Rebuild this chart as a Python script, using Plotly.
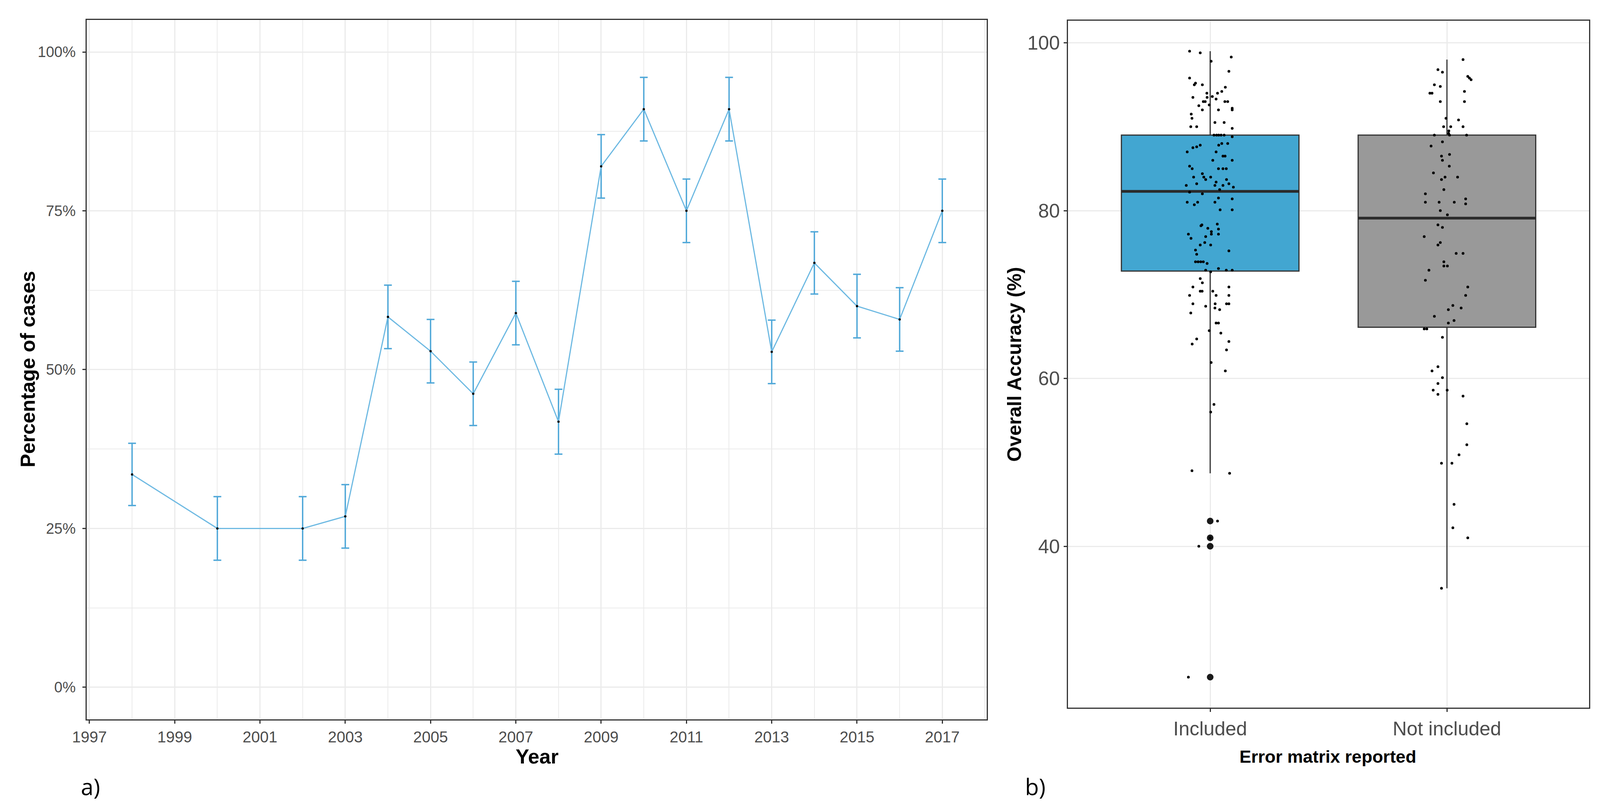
import plotly.graph_objects as go

# ---------------- Panel a) data ----------------
years = [1998, 2000, 2002, 2003, 2004, 2005, 2006, 2007, 2008, 2009,
         2010, 2011, 2012, 2013, 2014, 2015, 2016, 2017]
pct_cases = [33.5, 25.0, 25.0, 26.9, 58.3, 52.9, 46.2, 58.9, 41.8, 82.0,
             91.0, 75.0, 91.0, 52.8, 66.8, 60.0, 57.9, 75.0]
pct_err = [4.9, 5.0, 5.0, 5.0, 5.0, 5.0, 5.0, 5.0, 5.1, 5.0,
           5.0, 5.0, 5.0, 5.0, 4.9, 5.0, 5.0, 5.0]
y_ticks_a = [0, 25, 50, 75, 100]
y_ticklabels_a = ["0%", "25%", "50%", "75%", "100%"]
x_ticks_a = [1997, 1999, 2001, 2003, 2005, 2007, 2009, 2011, 2013, 2015, 2017]

# ---------------- Panel b) data ----------------
categories = ["Included", "Not included"]
box_q1 = [72.8, 66.1]
box_median = [82.3, 79.1]
box_q3 = [89.0, 89.0]
box_lower = [48.7, 35.0]
box_upper = [99.0, 98.0]
outliers_included = [43.0, 41.0, 40.0, 24.4]

included_vals = [
    99.0, 98.8, 97.8, 98.3, 96.6, 95.8, 95.2, 95.0, 95.0, 94.7,
    94.2, 94.0, 94.0, 93.6, 93.5, 93.5, 93.3, 93.0, 93.0, 93.0,
    93.0, 92.5, 92.6, 92.0, 92.0, 92.2, 92.0, 91.5, 91.0, 90.5,
    90.5, 90.0, 90.0, 89.8, 89.0, 89.0, 89.0, 89.0, 89.0, 88.8,
    87.8, 87.6, 87.5, 87.0, 88.0, 87.8, 88.0, 87.0, 86.5, 86.5,
    86.0, 86.0, 85.3, 85.0, 85.0, 85.0, 85.0, 84.4, 84.0, 84.0,
    83.7, 84.0, 83.7, 83.4, 83.0, 83.0, 83.2, 83.0, 83.2, 82.8,
    82.5, 82.2, 82.0, 81.5, 81.4, 81.0, 81.0, 80.7, 81.0, 80.1,
    80.1, 78.3, 78.2, 78.4, 77.9, 77.8, 77.5, 77.2, 77.2, 77.2,
    76.7, 76.9, 76.2, 75.9, 75.9, 75.3, 75.2, 74.8, 73.9, 73.9,
    73.9, 73.9, 73.7, 72.9, 73.1, 72.9, 72.9, 72.7, 71.9, 71.4,
    70.9, 70.9, 70.4, 70.4, 70.4, 69.9, 69.9, 69.9, 68.9, 68.9,
    68.9, 68.9, 68.6, 68.4, 68.2, 67.8, 66.6, 66.6, 65.7, 65.4,
    64.7, 64.1, 64.4, 63.4, 61.9, 60.9, 56.9, 56.0, 49.0, 48.7,
    43.0, 41.0, 40.0, 24.4,
]
included_jitter = [
    -0.087, -0.042, 0.004, 0.089, 0.079, -0.087, -0.062, -0.067, -0.033, 0.064,
    0.049, 0.031, -0.014, 0.009, -0.073, -0.013, 0.025, -0.029, -0.021, 0.062,
    0.074, -0.048, -0.004, -0.033, 0.035, 0.093, 0.093, -0.080, -0.077, 0.020,
    0.059, -0.082, -0.057, 0.093, 0.016, 0.027, 0.036, 0.046, 0.059, 0.093,
    -0.042, -0.057, -0.073, -0.097, 0.049, 0.036, 0.074, 0.025, 0.054, 0.063,
    0.011, 0.093, -0.087, -0.076, 0.035, 0.054, 0.068, -0.033, -0.070, -0.027,
    -0.019, 0.002, 0.069, 0.025, 0.020, -0.101, -0.057, 0.054, 0.079, 0.098,
    0.040, -0.087, -0.033, 0.035, 0.093, -0.097, -0.053, -0.067, 0.020, 0.042,
    0.093, -0.035, -0.039, 0.030, -0.010, 0.035, 0.005, -0.092, 0.005, 0.035,
    -0.081, -0.019, -0.023, -0.042, 0.002, -0.062, 0.079, -0.057, -0.062, -0.051,
    -0.040, -0.029, -0.013, -0.019, 0.035, 0.068, 0.093, 0.002, -0.042, -0.033,
    -0.073, 0.079, -0.042, -0.034, 0.011, -0.087, 0.025, 0.079, -0.073, 0.021,
    0.069, 0.079, -0.019, 0.020, 0.040, -0.082, 0.025, 0.035, -0.004, 0.045,
    -0.057, -0.076, 0.079, 0.069, 0.004, 0.064, 0.016, 0.002, -0.077, 0.082,
    0.031, 0.000, -0.048, -0.092,
]
not_included_vals = [
    98.0, 96.8, 96.5, 96.0, 95.8, 95.6, 95.0, 94.8, 94.0, 94.0,
    94.2, 93.0, 93.0, 91.0, 90.8, 90.0, 90.0, 90.0, 89.5, 89.2,
    89.0, 89.0, 89.0, 88.2, 87.7, 86.5, 86.7, 86.0, 85.3, 84.5,
    84.0, 84.0, 83.7, 82.5, 82.0, 81.4, 80.8, 81.0, 81.0, 81.0,
    80.0, 79.5, 78.3, 78.0, 76.9, 76.2, 75.9, 74.9, 74.9, 73.9,
    73.4, 73.4, 72.9, 71.7, 70.9, 69.9, 68.7, 68.2, 68.4, 67.4,
    66.9, 66.6, 65.9, 65.9, 64.9, 61.4, 60.9, 60.1, 59.4, 58.6,
    58.6, 58.1, 57.9, 54.6, 52.1, 50.9, 49.9, 49.9, 45.0, 42.2,
    41.0, 35.0,
]
not_included_jitter = [
    0.068, -0.038, -0.019, 0.088, 0.095, 0.102, -0.053, -0.028, -0.072, -0.063,
    0.074, -0.028, 0.074, -0.004, 0.049, -0.014, 0.016, 0.068, 0.008, 0.007,
    -0.053, 0.011, 0.083, -0.019, -0.067, -0.023, 0.011, -0.019, 0.010, -0.057,
    -0.008, 0.045, -0.023, -0.013, -0.091, 0.079, 0.079, -0.091, -0.033, 0.031,
    -0.028, 0.002, -0.038, -0.019, -0.096, -0.028, -0.038, 0.039, 0.068, -0.013,
    -0.013, 0.002, -0.076, -0.091, 0.088, 0.079, 0.025, 0.006, 0.060, -0.053,
    0.030, 0.006, -0.096, -0.085, -0.019, -0.038, -0.063, -0.019, -0.038, -0.058,
    0.001, -0.038, 0.068, 0.084, 0.084, 0.051, -0.023, 0.021, 0.030, 0.025,
    0.088, -0.023,
]
y_ticks_b = [40, 60, 80, 100]

# ---------------- styles ----------------
W, H = 4244, 2073
BLUE_LINE = "#6DB9E2"
BLUE_ERR = "#4EA7D8"
BOX_FILLS = ["#42A6D1", "#999999"]
GRID = "#EBEBEB"
BORDER = "#333333"
TICKTXT = "#4D4D4D"
BOX_WIDTH = 0.75
FONT = "Liberation Sans, Arial, sans-serif"
NARROW = "Liberation Sans Narrow, Arial Narrow, Liberation Sans, sans-serif"


def px_x(p):
    return p / W


def px_y(p):
    return 1 - p / H


fig = go.Figure()

# Panel a: line + error bars + points
fig.add_trace(go.Scatter(
    x=years, y=pct_cases, mode="lines",
    line=dict(color=BLUE_LINE, width=3),
    error_y=dict(type="data", array=pct_err, visible=True,
                 color=BLUE_ERR, thickness=3.5, width=10),
    xaxis="x", yaxis="y", showlegend=False, hoverinfo="skip"))
fig.add_trace(go.Scatter(
    x=years, y=pct_cases, mode="markers",
    marker=dict(color="black", size=6),
    xaxis="x", yaxis="y", showlegend=False))

# Panel b: boxes
for i, cat in enumerate(categories):
    fig.add_trace(go.Box(
        x=[i], q1=[box_q1[i]], median=[box_median[i]], q3=[box_q3[i]],
        lowerfence=[box_lower[i]], upperfence=[box_upper[i]],
        width=BOX_WIDTH, fillcolor=BOX_FILLS[i],
        line=dict(color=BORDER, width=3), whiskerwidth=0,
        boxpoints=False, xaxis="x2", yaxis="y2", showlegend=False))
    fig.add_trace(go.Scatter(
        x=[i - BOX_WIDTH / 2, i + BOX_WIDTH / 2],
        y=[box_median[i], box_median[i]], mode="lines",
        line=dict(color="#2B2B2B", width=7),
        xaxis="x2", yaxis="y2", showlegend=False, hoverinfo="skip"))

# outliers (boxplot)
fig.add_trace(go.Scatter(
    x=[0] * len(outliers_included), y=outliers_included, mode="markers",
    marker=dict(color="#1A1A1A", size=17),
    xaxis="x2", yaxis="y2", showlegend=False))

# jittered points
fig.add_trace(go.Scatter(
    x=[0 + d for d in included_jitter], y=included_vals, mode="markers",
    marker=dict(color="black", size=7),
    xaxis="x2", yaxis="y2", showlegend=False))
fig.add_trace(go.Scatter(
    x=[1 + d for d in not_included_jitter], y=not_included_vals, mode="markers",
    marker=dict(color="black", size=7),
    xaxis="x2", yaxis="y2", showlegend=False))

axis_common = dict(showline=True, linecolor=BORDER, linewidth=3, mirror=True,
                   ticks="outside", ticklen=8, tickwidth=2.5, tickcolor=BORDER,
                   showgrid=True, gridcolor=GRID, gridwidth=2.5, zeroline=False,
                   automargin=False)

ann_common = dict(xref="paper", yref="paper", showarrow=False,
                  xanchor="center", yanchor="middle")

fig.update_layout(
    template="none",
    autosize=True,
    margin=dict(l=0, r=0, t=0, b=0, pad=0),
    paper_bgcolor="white", plot_bgcolor="white",
    font=dict(family=FONT, color="black"),
    xaxis=dict(domain=[px_x(223), px_x(2619)], anchor="y",
               range=[1996.94, 2018.04], tickvals=x_ticks_a,
               ticktext=[str(v) for v in x_ticks_a],
               tickfont=dict(size=40, color=TICKTXT, family=FONT),
               minor=dict(dtick=1, tick0=1997, showgrid=True, gridcolor=GRID,
                          gridwidth=1.5, ticklen=0),
               **axis_common),
    yaxis=dict(domain=[px_y(1847), px_y(43)], anchor="x",
               range=[-5.04, 105.07], tickvals=y_ticks_a, ticktext=y_ticklabels_a,
               tickfont=dict(size=38, color=TICKTXT, family=FONT),
               ticklabelstandoff=10,
               minor=dict(dtick=12.5, tick0=0, showgrid=True, gridcolor=GRID,
                          gridwidth=1.5, ticklen=0),
               **axis_common),
    xaxis2=dict(domain=[px_x(2836), px_x(4223)], anchor="y2",
                range=[-0.6, 1.6], tickvals=[0, 1], ticktext=categories,
                tickfont=dict(size=50, color=TICKTXT, family=NARROW),
                **axis_common),
    yaxis2=dict(domain=[px_y(1817), px_y(45)], anchor="x2",
                range=[20.77, 102.65], tickvals=y_ticks_b,
                ticktext=[str(v) for v in y_ticks_b],
                tickfont=dict(size=50, color=TICKTXT, family=NARROW),
                **axis_common),
    annotations=[
        dict(text="<b>Percentage of cases</b>", x=px_x(65), y=px_y(944),
             textangle=-90, font=dict(size=52, family=FONT, color="black"),
             **ann_common),
        dict(text="<b>Year</b>", x=px_x(1422), y=px_y(1943),
             font=dict(size=52, family=FONT, color="black"), **ann_common),
        dict(text="<b>Overall Accuracy (%)</b>", x=px_x(2693), y=px_y(932),
             textangle=-90, font=dict(size=50, family=FONT, color="black"),
             **ann_common),
        dict(text="<b>Error matrix reported</b>", x=px_x(3528), y=px_y(1943),
             font=dict(size=45, family=NARROW, color="black"), **ann_common),
        dict(text="a)", x=px_x(232), y=px_y(2020),
             font=dict(size=58, family="Open Sans, Liberation Sans", color="black"),
             **ann_common),
        dict(text="b)", x=px_x(2749), y=px_y(2020),
             font=dict(size=58, family="Open Sans, Liberation Sans", color="black"),
             **ann_common),
    ],
)

fig.write_html("out.html", default_width="calc(100vw - 16px)",
               default_height="calc(100vh - 16px)")
